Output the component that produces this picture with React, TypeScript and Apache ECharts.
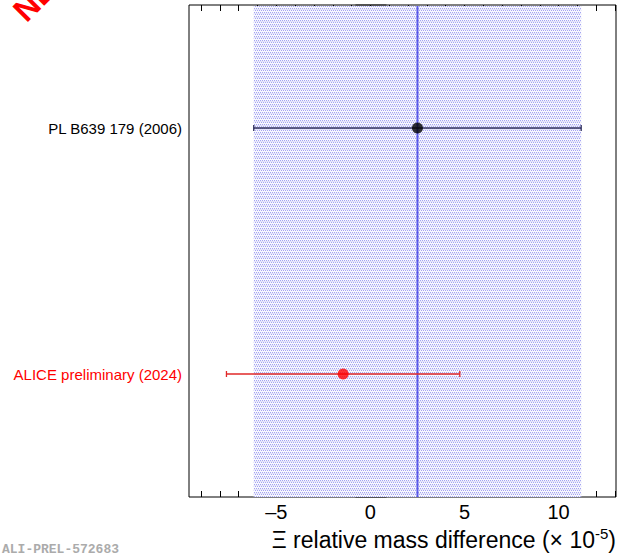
import React, { useEffect, useRef } from "react";
import * as echarts from "echarts";

// ---------- data ----------
const categories = ["ALICE preliminary (2024)", "PL B639 179 (2006)"];
const labelColors = ["#ff0000", "#000000"];
const centralValues = [-1.45, 2.5];
const errorValues = [6.2, 8.7];
const pointColors = ["#ff0000", "#000000"];
const barColors = ["#e02828", "#2e2e5e"];
const referenceValue = 2.5;
const referenceBand = [-6.2, 11.2];
const xRange = [-9.64, 13.05];
const majorTicks = [-5, 0, 5, 10];
const minorTicks = [-9, -8, -7, -6, -5, -4, -3, -2, -1, 0, 1, 2, 3, 4, 5, 6, 7, 8, 9, 10, 11, 12, 13];
const axisTitle = "Ξ relative mass difference (× 10";
const axisTitleExp = "-5";
const watermark = "ALI-PREL-572683";
const stamp = "NEW";

function makePattern() {
  const c = document.createElement("canvas");
  c.width = 4;
  c.height = 4;
  const ctx = c.getContext("2d")!;
  ctx.fillStyle = "#f8f8fe";
  ctx.fillRect(0, 0, 4, 4);
  ctx.fillStyle = "#a4a4f2";
  ctx.fillRect(0, 0, 1, 1);
  ctx.fillRect(2, 0, 1, 1);
  ctx.fillRect(1, 2, 1, 1);
  ctx.fillRect(3, 2, 1, 1);
  ctx.fillStyle = "#e2e2f9";
  ctx.fillRect(0, 1, 4, 1);
  return c;
}

export default function App() {
  const ref = useRef<HTMLDivElement>(null);
  useEffect(() => {
    if (!ref.current) return;
    const chart = echarts.init(ref.current, undefined, { renderer: "svg" });
    const pattern = makePattern();
    const fmt = (v: number) => String(v).replace("-", "\u2013");
    const xBase = (position: string, ticks: number[], len: number, labels: boolean) => ({
      type: "value",
      min: xRange[0],
      max: xRange[1],
      position,
      axisLine: { show: false },
      splitLine: { show: false },
      axisTick: {
        show: true,
        inside: true,
        length: len,
        customValues: ticks,
        lineStyle: { color: "#000", width: 1 },
      },
      axisLabel: labels
        ? {
            show: true,
            customValues: majorTicks,
            formatter: fmt,
            fontSize: 20,
            fontFamily: "Liberation Sans, Arial, sans-serif",
            color: "#000",
            margin: 5,
          }
        : { show: false },
    });
    const option: any = {
      animation: false,
      backgroundColor: "#fff",
      grid: {
        left: 189,
        right: 1,
        top: 5,
        bottom: 59,
        show: true,
        borderColor: "#000",
        borderWidth: 1,
        backgroundColor: "transparent",
      },
      xAxis: [
        xBase("bottom", majorTicks, 12, true),
        xBase("bottom", minorTicks, 6, false),
        xBase("top", majorTicks, 12, false),
        xBase("top", minorTicks, 6, false),
      ],
      yAxis: [
        {
          type: "category",
          data: categories,
          position: "left",
          boundaryGap: true,
          axisLine: { show: false },
          axisTick: { show: true, inside: true, length: 16, lineStyle: { color: "#444", width: 1.5 } },
          axisLabel: {
            show: true,
            fontSize: 15,
            fontFamily: "Liberation Sans, Arial, sans-serif",
            margin: 7,
            color: (_v: any, i: number) => labelColors[i],
          },
        },
        {
          type: "category",
          data: categories,
          position: "right",
          boundaryGap: true,
          axisLine: { show: false },
          axisTick: { show: true, inside: true, length: 15, lineStyle: { color: "#444", width: 1.5 } },
          axisLabel: { show: false },
        },
      ],
      series: [
        {
          type: "custom",
          name: "band",
          xAxisIndex: 0,
          yAxisIndex: 0,
          data: [[referenceBand[0], referenceBand[1], referenceValue]],
          z: 1,
          renderItem: (params: any, api: any) => {
            const cs = params.coordSys;
            const x0 = api.coord([api.value(0), 0])[0];
            const x1 = api.coord([api.value(1), 0])[0];
            const xc = api.coord([api.value(2), 0])[0];
            return {
              type: "group",
              children: [
                {
                  type: "rect",
                  shape: { x: x0, y: cs.y + 1, width: x1 - x0, height: cs.height - 1 },
                  style: { fill: { image: pattern, repeat: "repeat" } as any },
                },
                {
                  type: "line",
                  shape: { x1: xc, y1: cs.y + 1, x2: xc, y2: cs.y + cs.height },
                  style: { stroke: "#5a5ae8", lineWidth: 2 },
                },
              ],
            };
          },
        },
        {
          type: "custom",
          name: "errors",
          xAxisIndex: 0,
          yAxisIndex: 0,
          z: 3,
          data: categories.map((_, i) => [i, centralValues[i], errorValues[i]]),
          renderItem: (_params: any, api: any) => {
            const i = api.value(0);
            const c = api.value(1);
            const e = api.value(2);
            const a = api.coord([c - e, i]);
            const b = api.coord([c + e, i]);
            const col = barColors[i];
            const st = { stroke: col, lineWidth: 1.3 };
            return {
              type: "group",
              children: [
                { type: "line", shape: { x1: a[0], y1: a[1], x2: b[0], y2: b[1] }, style: st },
                { type: "line", shape: { x1: a[0], y1: a[1] - 3, x2: a[0], y2: a[1] + 3 }, style: st },
                { type: "line", shape: { x1: b[0], y1: b[1] - 3, x2: b[0], y2: b[1] + 3 }, style: st },
              ],
            };
          },
        },
        {
          type: "scatter",
          xAxisIndex: 0,
          yAxisIndex: 0,
          z: 4,
          symbol: "circle",
          symbolSize: 11,
          data: categories.map((_, i) => ({
            value: [centralValues[i], i],
            itemStyle: { color: pointColors[i] },
          })),
        },
      ],
      graphic: [
        {
          type: "text",
          x: 616,
          y: 540,
          style: {
            text: `{a|${axisTitle}}{s|${axisTitleExp}}{a|)}`,
            align: "right",
            verticalAlign: "middle",
            rich: {
              a: { fontSize: 23, fontFamily: "Liberation Sans, Arial, sans-serif", fill: "#000", lineHeight: 26 },
              s: {
                fontSize: 15,
                fontFamily: "Liberation Sans, Arial, sans-serif",
                fill: "#000",
                lineHeight: 26,
                padding: [0, 0, 13, 0],
              },
            },
          },
        },
        {
          type: "text",
          x: 2,
          y: 549,
          style: {
            text: watermark,
            fontSize: 13,
            fontWeight: "bold",
            fontFamily: "Liberation Mono, Courier New, monospace",
            fill: "#ababab",
            verticalAlign: "middle",
          },
        },
        {
          type: "text",
          x: 30,
          y: 27,
          rotation: Math.PI / 4,
          style: {
            text: stamp,
            fontSize: 32,
            fontWeight: "bold",
            fontFamily: "Liberation Sans, Arial, sans-serif",
            fill: "#ff0000",
            verticalAlign: "bottom",
            align: "left",
          },
        },
      ],
    };
    chart.setOption(option);
    return () => chart.dispose();
  }, []);
  return <div ref={ref} style={{ width: 617, height: 556, position: "absolute", left: 0, top: 0 }} />;
}
